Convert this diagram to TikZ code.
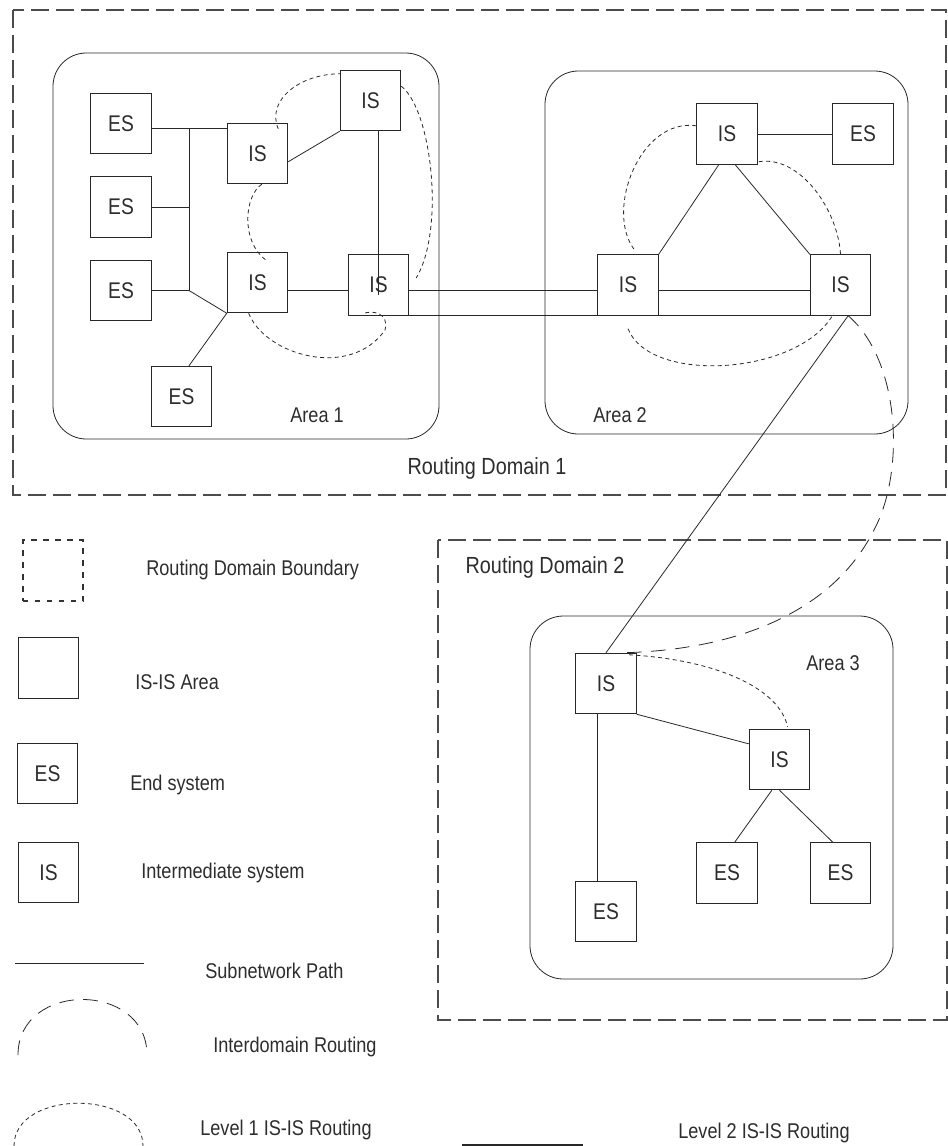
\documentclass[tikz,border=0pt]{standalone}
\usepackage{fontspec}
\setmainfont{Liberation Sans}[FakeStretch=0.85]
\usetikzlibrary{calc}
\definecolor{isoline}{RGB}{40,40,40}
\definecolor{isotext}{RGB}{45,45,45}
\tikzset{
  sys/.style={draw=isoline, line width=0.6pt, minimum size=45.5pt, inner sep=0pt,
              font=\fontsize{17}{19}\selectfont, text=isotext},
  txt/.style={inner sep=0pt, font=\fontsize{16}{18}\selectfont, text=isotext},
  bigtxt/.style={txt, font=\fontsize{17.5}{19}\selectfont},
  dom/.style={draw=black!70, line width=1.3pt, dash pattern=on 13.5pt off 5.25pt},
  dombox/.style={draw=black!80, line width=1.6pt, dash pattern=on 4pt off 5pt,
                 minimum size=45.5pt, inner sep=0pt},
  arearect/.style={draw=isoline, line width=0.6pt, rounded corners=25pt},
  subnet/.style={draw=isoline, line width=0.6pt},
  lone/.style={draw=isoline, line width=0.6pt, dash pattern=on 3pt off 2.5pt},
  ldom/.style={draw=isoline, line width=0.6pt, dash pattern=on 11pt off 7pt},
}

\begin{document}
\begin{tikzpicture}[x=0.75pt, y=-0.75pt]
    \useasboundingbox (0,0) rectangle (948,1146);
    % domains and areas
    \draw[dom] (13,10) rectangle (946,495);
    \draw[dom] (438,540) rectangle (947,1020);
    \draw[arearect] (53,53) rectangle (439,439);
    \draw[arearect] (545,71) rectangle (908,434);
    \draw[arearect] (530,616) rectangle (893,979);
    \node[bigtxt] (rd1) at (487,468) {Routing Domain 1};
    \node[bigtxt] (rd2) at (545,567) {Routing Domain 2};
    \node[txt] (ar1) at (317,415) {Area 1};
    \node[txt] (ar2) at (620,415) {Area 2};
    \node[txt] (ar3) at (833,663) {Area 3};

    % area 1
    \node[sys] (es1) at (121,123.5) {ES};
    \node[sys] (es2) at (121,207) {ES};
    \node[sys] (es3) at (121,290.5) {ES};
    \node[sys] (es4) at (181.5,396.5) {ES};
    \node[sys] (isA) at (257.5,153.5) {IS};
    \node[sys] (isB) at (370.5,100.5) {IS};
    \node[sys] (isC) at (257.5,282.5) {IS};
    \node[sys] (isD) at (378.5,285) {IS};
    \coordinate (busT) at (189,128);
    \coordinate (busB) at (189,290.5);
    \coordinate (trunk) at (0,290);
    \draw[subnet] (es1.east |- busT) -- (isA.west |- busT);
    \draw[subnet] (busT) -- (busB);
    \draw[subnet] (es2.east) -- (es2.east -| busT);
    \draw[subnet] (es3.east) -- (busB) -- (isC.south west) -- (es4.north -| busB);
    \draw[subnet] (isA.-15) -- (isB.south west);
    \draw[subnet] (isB.south -| isD) -- ($(isD)+(0,10)$);
    \draw[subnet] (isC.east |- trunk) -- (isD.west |- trunk);

    % area 2
    \node[sys] (isG) at (727,134) {IS};
    \node[sys] (esG) at (863,134) {ES};
    \node[sys] (isE) at (628,285) {IS};
    \node[sys] (isF) at (840.5,285) {IS};
    \draw[subnet] (isG.east) -- (esG.west);
    \draw[subnet] (isG.-105) -- (isE.north east);
    \draw[subnet] (isG.-75) -- (isF.north west);
    \draw[subnet] (isD.east |- trunk) -- (isE.west |- trunk);
    \draw[subnet] (isE.east |- trunk) -- (isF.west |- trunk);
    \draw[subnet] (isD.south east) -- (isF.south east);

    % area 3
    \node[sys] (isH) at (606,683.5) {IS};
    \node[sys] (isI) at (779.5,759.5) {IS};
    \node[sys] (esH) at (606,911.5) {ES};
    \node[sys] (esI) at (727,873) {ES};
    \node[sys] (esJ) at (840.5,873) {ES};
    \draw[subnet] (isF.-76) -- (isH.north);
    \draw[subnet] (isH.-105) -- (isH.-105 |- esH.north);
    \draw[subnet] (isH.south east) -- (isI.153);
    \draw[subnet] (isI.-104) -- (esI.76);
    \draw[subnet] (isI.south) -- (esJ.104);

    % level 1 routing
    \draw[lone] ($(isA.north east)+(-10,6)$) .. controls (266,100) and (300,74) .. (isB.139);
    \draw[lone] (isB.25) .. controls (432,110) and (445,230) .. ($(isD.east)+(7,-7)$);
    \draw[lone] (isA.-82) .. controls (245,195) and (240,240) .. ($(isC.north)+(8,8)$);
    \draw[lone] (isC.-106) .. controls (265,355) and (350,380) .. (385,330)
                .. controls (390,312) and (370,310) .. ($(isD.south)+(-15,-2)$);
    \draw[lone] (isG.165) .. controls (640,118) and (605,210) .. ($(isE.north)+(6,-5)$);
    \draw[lone] ($(isG.south east)+(1,-3)$) .. controls (800,155) and (838,210) .. (isF.north);
    \draw[lone] ($(isE.south)+(0,13)$) .. controls (650,385) and (800,375) .. ($(isF.south)+(-7,-2)$);
    \draw[lone] ($(isH.north)+(23,2)$) .. controls (720,660) and (780,690) .. ($(isI.north)+(8,-2)$);

    % interdomain routing
    \draw[ldom] (isF.-76) .. controls (900,360) and (905,470) .. (875,528)
                .. controls (835,610) and (740,650) .. (isH.62);

    % legend
    \node[dombox] (lgDom) at (53,570.5) {};
    \node[txt, anchor=west] (lgDomT) at (146,570) {Routing Domain Boundary};
    \node[sys] (lgArea) at (48.5,668) {};
    \node[txt, anchor=west] (lgAreaT) at (135,682) {IS-IS Area};
    \node[sys] (lgES) at (47.5,773.5) {ES};
    \node[txt, anchor=west] (lgEST) at (130,785) {End system};
    \node[sys] (lgIS) at (48.5,872.5) {IS};
    \node[txt, anchor=west] (lgIST) at (141,873) {Intermediate system};
    \draw[subnet] (15,963) -- (144,963);
    \node[txt, anchor=west] (lgSubT) at (205,971) {Subnetwork Path};
    \draw[ldom] (18,1055) .. controls (18,981) and (147,981) .. (147,1055);
    \node[txt, anchor=west] (lgIdrT) at (213,1047) {Interdomain Routing};
    \draw[lone] (14,1146) .. controls (14,1089) and (143,1089) .. (143,1146);
    \node[txt, anchor=west] (lgL1T) at (200,1130) {Level 1 IS-IS Routing};
    \draw[isoline, line width=1pt] (462,1145) -- (583,1145);
    \node[txt, anchor=west] (lgL2T) at (678,1133) {Level 2 IS-IS Routing};
\end{tikzpicture}
\end{document}
